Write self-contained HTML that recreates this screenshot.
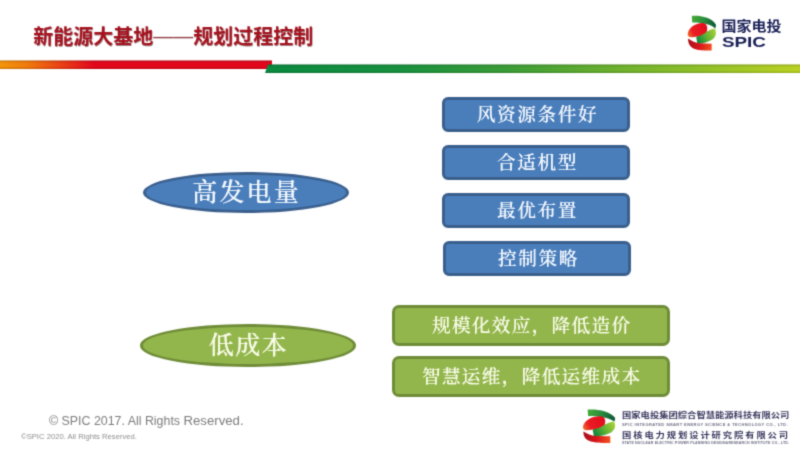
<!DOCTYPE html>
<html lang="zh-CN">
<head>
<meta charset="utf-8">
<title>新能源大基地——规划过程控制</title>
<style>
html,body{margin:0;padding:0;background:#fff;}
html{overflow:hidden;width:800px;height:450px;}
#wrap{position:absolute;left:0;top:0;width:800px;height:450px;background:#fff;filter:url(#pb);}
body{width:800px;height:450px;position:relative;font-family:"Liberation Sans","Noto Sans CJK SC",sans-serif;}
#bg{position:absolute;left:0;top:0;width:800px;height:450px;overflow:visible;}
.t{position:absolute;white-space:nowrap;line-height:1;}
#title{left:33.3px;top:27px;font-size:20px;font-weight:bold;color:#a5121e;letter-spacing:0;text-shadow:0.5px 0.6px 0.3px rgba(80,30,35,.55);}
#title .d{font-weight:300;position:relative;top:-1px;text-shadow:none;color:#8f3a42;}
.s{font-family:"Liberation Serif","Noto Serif CJK SC",serif;color:#fff;text-align:center;font-weight:500;text-shadow:0 0 0.6px rgba(255,255,255,.8);}
.box{position:absolute;box-sizing:border-box;border-radius:6px;display:flex;align-items:center;justify-content:center;letter-spacing:1.65px;padding:0 0 2.4px 2.9px;}
.bb{background:#4a7ebb;border:3px solid #3a5f8d;font-size:18.6px;color:#f3f8ff;}
.gb{border-radius:7px;background:#93b64c;border:3px solid #6f8c38;font-size:18.6px;color:#f8fbe6;letter-spacing:1.35px;padding-left:1.35px;}
.el{position:absolute;box-sizing:border-box;border-radius:50%;display:flex;align-items:center;justify-content:center;}
</style>
</head>
<body>
<div id="wrap">
<svg id="bg" width="800" height="450" viewBox="0 0 800 450">
  <defs>
    <linearGradient id="gr" x1="0" x2="1" y1="0" y2="0">
      <stop offset="0" stop-color="#f59a0a"/>
      <stop offset="0.12" stop-color="#f07a0c"/>
      <stop offset="0.36" stop-color="#e3071c"/>
      <stop offset="1" stop-color="#e3071c"/>
    </linearGradient>
    <linearGradient id="edge" x1="0" x2="0" y1="0" y2="1">
      <stop offset="0" stop-color="#000" stop-opacity="0.2"/>
      <stop offset="0.3" stop-color="#000" stop-opacity="0"/>
      <stop offset="0.7" stop-color="#000" stop-opacity="0"/>
      <stop offset="1" stop-color="#000" stop-opacity="0.16"/>
    </linearGradient>
    <linearGradient id="gg" x1="0" x2="1" y1="0" y2="0">
      <stop offset="0" stop-color="#0a8a40"/>
      <stop offset="0.25" stop-color="#18913f"/>
      <stop offset="0.45" stop-color="#3b9d36"/>
      <stop offset="0.62" stop-color="#66ae2f"/>
      <stop offset="0.8" stop-color="#8fc028"/>
      <stop offset="1" stop-color="#bdd222"/>
    </linearGradient>
  
    <linearGradient id="lg1" gradientUnits="userSpaceOnUse" x1="692" y1="19" x2="716" y2="26">
      <stop offset="0" stop-color="#46a838"/>
      <stop offset="0.45" stop-color="#2a8f3c"/>
      <stop offset="1" stop-color="#0a5436"/>
    </linearGradient>
    <linearGradient id="lg2" gradientUnits="userSpaceOnUse" x1="688" y1="35" x2="706" y2="26">
      <stop offset="0" stop-color="#f0682a"/>
      <stop offset="0.3" stop-color="#ea1c24"/>
      <stop offset="1" stop-color="#e30d1c"/>
    </linearGradient>
    <linearGradient id="lg3" gradientUnits="userSpaceOnUse" x1="715" y1="31" x2="698" y2="41">
      <stop offset="0" stop-color="#a4cf3a"/>
      <stop offset="0.5" stop-color="#62b435"/>
      <stop offset="1" stop-color="#12873a"/>
    </linearGradient>
    <linearGradient id="lg4" gradientUnits="userSpaceOnUse" x1="688" y1="42" x2="712" y2="48">
      <stop offset="0" stop-color="#a80f1a"/>
      <stop offset="0.5" stop-color="#d8141c"/>
      <stop offset="1" stop-color="#f2561f"/>
    </linearGradient>
    <filter id="pb" x="0" y="0" width="100%" height="100%" color-interpolation-filters="sRGB"><feConvolveMatrix order="3" kernelMatrix="1 4 1 4 16 4 1 4 1" edgeMode="duplicate"/></filter>
  </defs>
  <rect x="-6" y="60.5" width="278" height="8.5" fill="url(#gr)"/>
  <rect x="-6" y="60.5" width="278" height="8.5" fill="url(#edge)"/>
  <polygon points="268,64.5 806,64.5 806,73 265,73" fill="url(#gg)"/>
  <polygon points="268,64.5 806,64.5 806,73 265,73" fill="url(#edge)"/>
  <g id="logo1">
    <path d="M691.8,15.9 C700,15.2 712,17.4 716,24.8 L715.4,28.4 C711.5,25.2 705,22.6 692.2,22.6 Z" fill="url(#lg1)"/>
    <path d="M714.7,28.4 C717,32 716,37 712.4,39.6 C708,42.3 702,43.8 697.4,44 L696.2,37 L702,33 L707.5,31.3 C710,29.8 712,28.8 714.7,28.4 Z" fill="url(#lg3)"/>
    <path d="M687.7,34 C688.3,28 695,22.8 703,23 C706.8,23.3 708,27 706.8,31.5 C703.5,35 697,37.2 691,37.3 C688.6,37.2 687.6,36 687.7,34 Z" fill="url(#lg2)"/>
    <path d="M688.2,38.6 C691,40.6 695,43 699,43.3 L711.7,43.7 L711.7,50.6 C705,50.7 698,50.2 694,48.7 C690,47.2 687.7,43 688.2,38.6 Z" fill="url(#lg4)"/>
  </g>
  <g id="logo2" transform="translate(583.3,409.7) scale(1.14,0.965) translate(-688,-16.1)">
    <path d="M691.8,15.9 C700,15.2 712,17.4 716,24.8 L715.4,28.4 C711.5,25.2 705,22.6 692.2,22.6 Z" fill="url(#lg1)"/>
    <path d="M714.7,28.4 C717,32 716,37 712.4,39.6 C708,42.3 702,43.8 697.4,44 L696.2,37 L702,33 L707.5,31.3 C710,29.8 712,28.8 714.7,28.4 Z" fill="url(#lg3)"/>
    <path d="M687.7,34 C688.3,28 695,22.8 703,23 C706.8,23.3 708,27 706.8,31.5 C703.5,35 697,37.2 691,37.3 C688.6,37.2 687.6,36 687.7,34 Z" fill="url(#lg2)"/>
    <path d="M688.2,38.6 C691,40.6 695,43 699,43.3 L711.7,43.7 L711.7,50.6 C705,50.7 698,50.2 694,48.7 C690,47.2 687.7,43 688.2,38.6 Z" fill="url(#lg4)"/>
  </g>
</svg>
<div id="title" class="t">新能源大基地<span class="d">——</span>规划过程控制</div>

<div class="el s" style="left:142.5px;top:172.4px;width:206px;height:41px;background:#4a7ebb;border:3.5px solid #3a5f8d;color:#f3f8ff;font-size:25px;letter-spacing:2.1px;padding:0 0 5.5px 2.1px;">高发电量</div>
<div class="el s" style="left:139.5px;top:324px;width:216.5px;height:42.5px;background:#93b64c;border:3.5px solid #6f8c38;color:#f8fbe6;font-size:25px;letter-spacing:1.6px;padding:0 0 5.5px 1.6px;">低成本</div>

<div class="box bb s" style="left:442px;top:97px;width:188px;height:35px;">风资源条件好</div>
<div class="box bb s" style="left:442px;top:145px;width:188px;height:35px;">合适机型</div>
<div class="box bb s" style="left:442px;top:193px;width:188px;height:35px;">最优布置</div>
<div class="box bb s" style="left:443px;top:241px;width:188px;height:35px;">控制策略</div>

<div class="box gb s" style="left:392px;top:305px;width:278px;height:41px;">规模化效应，降低造价</div>
<div class="box gb s" style="left:392px;top:356px;width:278px;height:41px;">智慧运维，降低运维成本</div>

<div id="f1" class="t" style="left:49px;top:413.8px;font-size:12.4px;color:#7d7d7d;line-height:14px;">© SPIC 2017. All Rights <span style="font-size:13.2px;">Reserved.</span></div>
<div id="f2" class="t" style="left:21px;top:432.6px;font-size:12px;color:#8f8f8f;transform-origin:0 0;transform:scale(0.6385,0.6417);">©SPIC 2020. All Rights Reserved.</div>

<div id="lt1" class="t" style="left:721.5px;top:18.7px;font-size:15px;font-weight:bold;color:#181e55;transform-origin:0 50%;transform:scaleY(0.88);">国家电投</div>
<div id="lt2" class="t" style="left:722.3px;top:34.2px;font-size:15.2px;font-weight:bold;color:#181e55;transform-origin:0 0;transform:scaleX(1.24);">SPIC</div>

<div id="bt1" class="t" style="left:622px;top:412px;font-size:12px;color:#35345c;font-weight:700;transform-origin:0 0;transform:scale(0.775,0.62);">国家电投集团综合智慧能源科技有限公司</div>
<div id="bt2" class="t" style="left:622px;top:423px;font-size:12px;color:#6d6d85;font-weight:bold;letter-spacing:1.29px;transform-origin:0 0;transform:scale(0.3333);">SPIC INTEGRATED SMART ENERGY SCIENCE &amp; TECHNOLOGY CO., LTD.</div>
<div id="bt3" class="t" style="left:622px;top:432.1px;font-size:12px;color:#35345c;font-weight:700;letter-spacing:2.452px;transform-origin:0 0;transform:scale(0.775,0.62);">国核电力规划设计研究院有限公司</div>
<div id="bt4" class="t" style="left:622px;top:441.3px;font-size:12px;color:#6d6d85;font-weight:bold;letter-spacing:0.433px;transform-origin:0 0;transform:scale(0.3);">STATE NUCLEAR ELECTRIC POWER PLANNING DESIGN&amp;RESEARCH INSTITUTE CO., LTD.</div>
</div>
</body>
</html>
